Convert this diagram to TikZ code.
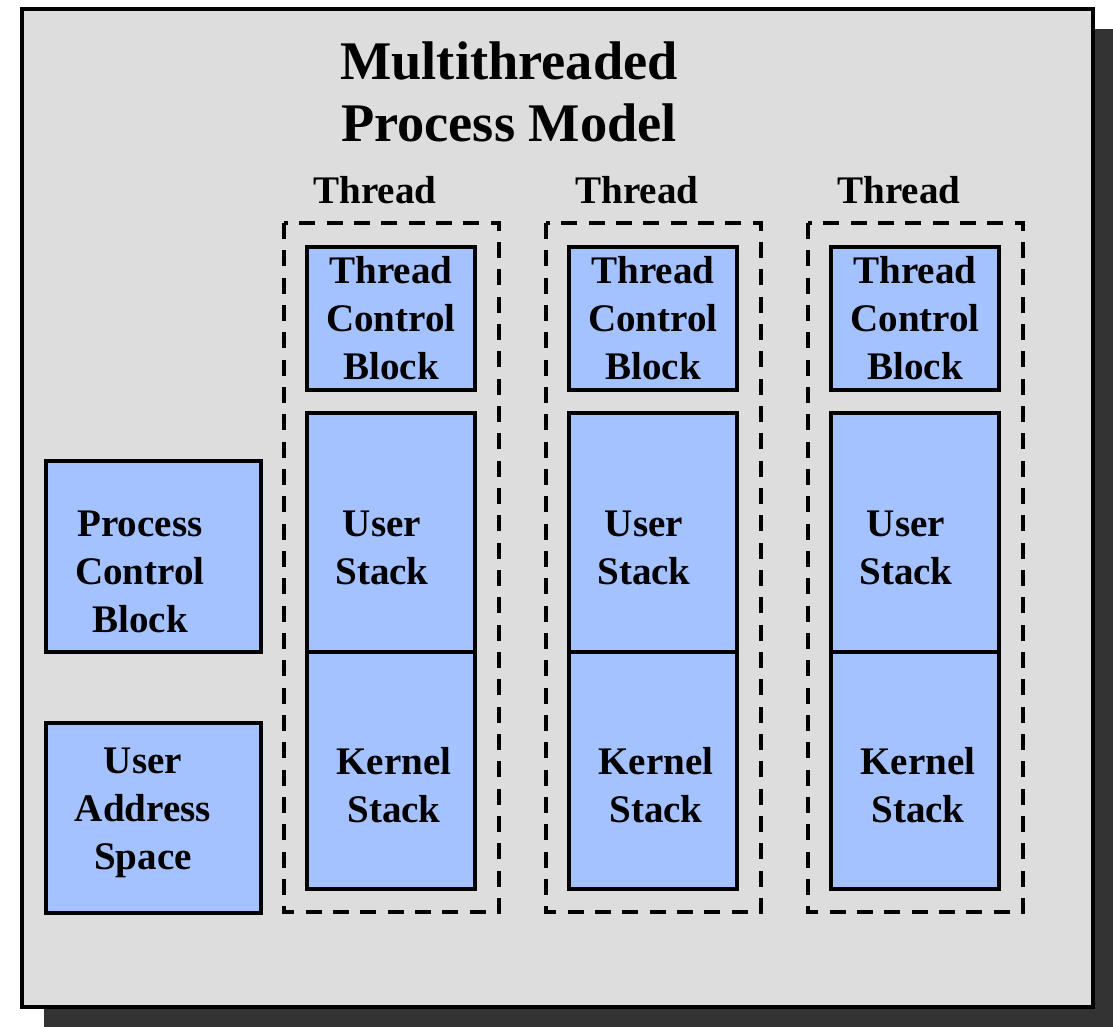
\documentclass[tikz,border=0pt]{standalone}
\usepackage{fontspec}
\setmainfont{Liberation Serif}
\definecolor{panelgrey}{HTML}{DDDDDD}
\definecolor{shadowgrey}{HTML}{333333}
\definecolor{boxfill}{HTML}{A4C2FF}
\begin{document}
\begin{tikzpicture}[x=0.75pt,y=-0.75pt,
  blockbox/.style={draw=black,line width=2.9pt,fill=boxfill},
  threadframe/.style={draw=black,line width=2.9pt,dash pattern=on 12pt off 8.5pt},
  boxtext/.style={align=center,font=\fontsize{29.3}{36}\selectfont\bfseries,inner sep=0pt},
  titletext/.style={align=center,font=\fontsize{40.8}{46.5}\selectfont\bfseries,inner sep=0pt}]
\useasboundingbox (0,0) rectangle (1113,1027);
% shadow and panel
\fill[fill=shadowgrey] (44,29) rectangle (1113,1027);
\draw[fill=panelgrey,line width=3.2pt] (22,9) rectangle (1093,1007);
% title
\node[titletext] (title) at (509,92) {Multithreaded\\Process Model};
% left boxes
\draw[blockbox] (46,461) coordinate (pcbA) rectangle (261,652) coordinate (pcbB);
\node[boxtext] (pcb) at (140,572) {Process\\Control\\Block};
\draw[blockbox] (46,723) coordinate (uasA) rectangle (261,913) coordinate (uasB);
\node[boxtext] (uas) at (143,813) {User\\Address\\Space};
% threads
\foreach \i/\xd/\xb in {1/284/307, 2/546/569, 3/808/831}{
  \node[boxtext] (thr\i) at ({\xd+91},190) {Thread};
  \draw[threadframe] (\xd,223) rectangle ({\xd+215},912);
  \draw[blockbox] (\xb,247) rectangle ({\xb+168},390);
  \node[boxtext] (tcb\i) at ({\xb+84},318) {Thread\\Control\\Block};
  \draw[blockbox] (\xb,413) rectangle ({\xb+168},889);
  \draw[line width=2.9pt] (\xb,652) -- ({\xb+168},652);
  \node[boxtext] (us\i) at ({\xb+75},548) {User\\Stack};
  \node[boxtext] (ks\i) at ({\xb+87},785) {Kernel\\Stack};
}
\end{tikzpicture}
\end{document}
